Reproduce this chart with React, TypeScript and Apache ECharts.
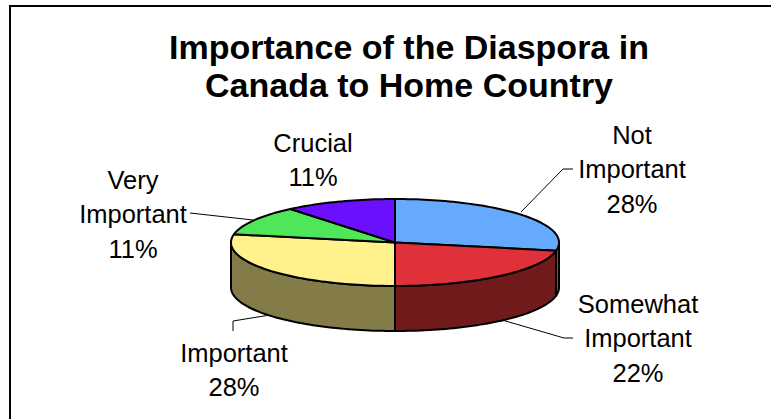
import React, { useEffect, useRef } from "react";
import * as echarts from "echarts";

const titleLines = ["Importance of the Diaspora in", "Canada to Home Country"];
const categories = ["Not\nImportant", "Somewhat\nImportant", "Important", "Very\nImportant", "Crucial"];
const shares = [28, 22, 28, 11, 11];
const topColors = ["#66aaff", "#e0303a", "#fff28c", "#50e65a", "#6a10ff"];
const sideColors = ["#3b82d0", "#701a1c", "#847c48", "#2c7a30", "#3a0a90"];

const CX = 395;
const CY = 242.5;
const RX = 164;
const RY = 43.5;
const DEPTH = 45;
const FONT = "'Liberation Sans', Arial, sans-serif";

const labelAnchors = [
  { x: 632, y: 169 },
  { x: 638, y: 338 },
  { x: 234, y: 370 },
  { x: 133, y: 214 },
  { x: 313, y: 160 },
];
const leaders = [
  [[521, 212], [563, 169], [573, 169]],
  [[502, 320], [564, 338], [573, 338]],
  [[270, 315], [233, 321], [233, 331]],
  [[253, 220], [190, 213]],
];

const total = shares.reduce((a, b) => a + b, 0);
function startAngle(i: number) {
  let s = 0;
  for (let k = 0; k < i; k++) s += shares[k];
  return (s / total) * 360;
}
function rim(deg: number, dy = 0): [number, number] {
  const r = (deg * Math.PI) / 180;
  return [CX + RX * Math.sin(r), CY - RY * Math.cos(r) + dy];
}
function arc(a0: number, a1: number, dy = 0) {
  const pts: [number, number][] = [];
  const n = Math.max(2, Math.ceil((a1 - a0) / 1.5));
  for (let k = 0; k <= n; k++) pts.push(rim(a0 + ((a1 - a0) * k) / n, dy));
  return pts;
}

const stroke = { stroke: "#000", lineWidth: 2, lineJoin: "round" as const };

export default function App() {
  const ref = useRef<HTMLDivElement>(null);
  useEffect(() => {
    document.body.style.margin = "0";
    const chart = echarts.init(ref.current!, undefined, { renderer: "svg" });
    chart.setOption({
      animation: false,
      backgroundColor: "#fff",
      title: {
        text: titleLines.join("\n"),
        left: 404,
        top: 23,
        textAlign: "center",
        textStyle: { fontFamily: FONT, fontWeight: "bold", fontSize: 34, lineHeight: 38, color: "#000" },
      },
      graphic: [
        { type: "polyline", silent: true, shape: { points: [[10, 419], [10, 6], [771, 6]] }, style: { stroke: "#000", lineWidth: 2, fill: "none" } },
        ...leaders.map((points) => ({
          type: "polyline",
          silent: true,
          shape: { points },
          style: { stroke: "#000", lineWidth: 1, fill: "none" },
        })),
        ...categories.map((name, i) => ({
          type: "text",
          silent: true,
          x: labelAnchors[i].x,
          y: labelAnchors[i].y,
          style: {
            text: `${name}\n${shares[i]}%`,
            fontFamily: FONT,
            fontSize: 25.5,
            lineHeight: 34.5,
            fill: "#000",
            align: "center",
            verticalAlign: "middle",
          },
        })),
      ],
      series: [
        {
          type: "custom",
          coordinateSystem: "none",
          silent: true,
          z: 1,
          clip: false,
          data: shares.map((v) => [v]),
          renderItem: (params: any) => {
            const i = params.dataIndex;
            const a0 = Math.max(startAngle(i), 90);
            const a1 = Math.min(startAngle(i + 1), 270);
            if (a1 <= a0) return { type: "group", children: [] };
            const pts = [...arc(a0, a1), ...arc(a0, a1, DEPTH).reverse()];
            return { type: "polygon", shape: { points: pts }, style: { fill: sideColors[i], ...stroke } };
          },
        },
        {
          type: "custom",
          coordinateSystem: "none",
          silent: true,
          z: 2,
          clip: false,
          data: shares.map((v) => [v]),
          renderItem: (params: any) => {
            const i = params.dataIndex;
            const pts = [[CX, CY], ...arc(startAngle(i), startAngle(i + 1))];
            return { type: "polygon", shape: { points: pts }, style: { fill: topColors[i], ...stroke } };
          },
        },
      ],
    });
    return () => chart.dispose();
  }, []);
  return <div ref={ref} style={{ width: 771, height: 419 }} />;
}
